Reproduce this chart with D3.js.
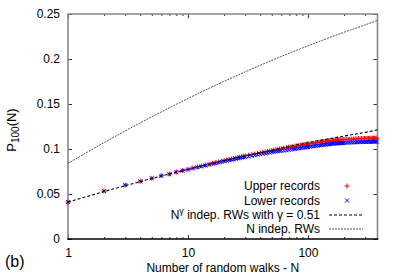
<!DOCTYPE html>
<html><head><meta charset="utf-8">
<script src="https://cdn.jsdelivr.net/npm/d3@7"></script>
<style>body{margin:0;background:#fff}svg{display:block}text{font-family:"Liberation Sans",Arial,sans-serif;fill:#000}</style>
</head><body><svg id="c" width="399" height="279"></svg>
<script>
// ---- data ----
const recN = [1,2,3,4,5,6,7,8,9,10,11,12,13,14,15,16,17,18,19,20,21,22,23,24,25,26,27,28,29,30,
  32,34,36,38,40,42,44,46,48,50,52,54,56,58,60,
  63,66,69,72,75,78,81,84,87,90,93,96,99,
  100,104,108,112,116,120,124,128,132,136,140,144,148,152,156,160,164,168,172,176,180,184,188,192,196,200,
  208,216,224,232,240,248,256,264,272,280,288,296,304,312,320,328,336,344,352,360,368,376];
const upperRecords = [0.0410,0.0533,0.0600,0.0642,0.0675,0.0704,0.0722,0.0745,0.0761,0.0774,
  0.0788,0.0800,0.0811,0.0821,0.0831,0.0840,0.0848,0.0856,0.0863,0.0870,0.0877,0.0883,0.0889,0.0894,0.0900,0.0905,0.0910,0.0914,0.0919,0.0923,
  0.0931,0.0938,0.0945,0.0951,0.0958,0.0963,0.0969,0.0974,0.0979,0.0983,0.0988,0.0992,0.0996,0.1000,0.1003,
  0.1010,0.1015,0.1020,0.1024,0.1028,0.1032,0.1036,0.1039,0.1043,0.1046,0.1049,0.1052,0.1055,
  0.1056,0.1060,0.1063,0.1066,0.1069,0.1072,0.1075,0.1078,0.1080,0.1083,0.1085,0.1087,0.1089,0.1091,0.1093,0.1094,0.1096,0.1097,0.1099,0.1100,0.1101,0.1102,0.1103,0.1104,0.1105,0.1106,
  0.1107,0.1108,0.1109,0.1110,0.1111,0.1112,0.1113,0.1114,0.1115,0.1115,0.1116,0.1117,0.1117,0.1118,0.1118,0.1119,0.1119,0.1119,0.1120,0.1120,0.1120,0.1120];
const lowerRecords = [0.0410,0.0532,0.0599,0.0641,0.0674,0.0702,0.0720,0.0743,0.0759,0.0772,
  0.0785,0.0797,0.0807,0.0817,0.0826,0.0835,0.0843,0.0850,0.0857,0.0863,0.0870,0.0875,0.0881,0.0886,0.0891,0.0896,0.0901,0.0905,0.0909,0.0912,
  0.0918,0.0924,0.0931,0.0936,0.0942,0.0947,0.0952,0.0956,0.0961,0.0965,0.0969,0.0972,0.0975,0.0978,0.0980,
  0.0982,0.0986,0.0990,0.0994,0.0997,0.1001,0.1004,0.1007,0.1010,0.1013,0.1016,0.1018,0.1021,
  0.1022,0.1025,0.1028,0.1031,0.1034,0.1037,0.1040,0.1042,0.1045,0.1047,0.1049,0.1051,0.1053,0.1055,0.1057,0.1058,0.1060,0.1061,0.1062,0.1063,0.1064,0.1065,0.1066,0.1067,0.1068,0.1069,
  0.1070,0.1071,0.1072,0.1073,0.1074,0.1075,0.1076,0.1076,0.1077,0.1078,0.1078,0.1079,0.1079,0.1080,0.1080,0.1080,0.1081,0.1081,0.1081,0.1082,0.1082,0.1082];
const lineN = [1,2,3,5,7,10,15,20,30,50,70,100,150,200,300,380];
const gammaRWs = [0.041,0.0527,0.0592,0.0672,0.0722,0.0774,0.0831,0.0870,0.0923,0.0987,0.1028,0.1069,0.1114,0.1144,0.1185,0.1213];
const indepRWs = [0.084,0.1071,0.1201,0.1358,0.1458,0.1561,0.1674,0.1752,0.1857,0.1985,0.2065,0.2146,0.2236,0.2297,0.2379,0.2430];
const xMajor = [1,10,100];
const xMinor = [2,3,4,5,6,7,8,9,20,30,40,50,60,70,80,90,200,300];
const yTicks = [0,0.05,0.1,0.15,0.2,0.25];
const yTickLabels = ["0","0.05","0.1","0.15","0.2","0.25"];

// ---- drawing ----
const svg = d3.select("#c");
const L=68, R=377.5, T=14, B=239;
const x = d3.scaleLog().domain([1,380]).range([L,R]);
const y = d3.scaleLinear().domain([0,0.25]).range([B,T]);

// ticks (inward, mirrored)
const g = svg.append("g");
const yAxL = d3.axisLeft(y).tickValues(yTicks).tickSize(-4).tickFormat((d,i)=>yTickLabels[i]).tickPadding(8);
const gyl = svg.append("g").attr("transform",`translate(${L},0)`).call(yAxL);
const yAxR = d3.axisRight(y).tickValues(yTicks).tickSize(-4).tickFormat("");
const gyr = svg.append("g").attr("transform",`translate(${R},0)`).call(yAxR);
const xAxB = d3.axisBottom(x).tickValues(xMajor).tickSize(-4).tickFormat(d3.format("d")).tickPadding(9);
const gxb = svg.append("g").attr("transform",`translate(0,${B})`).call(xAxB);
const gxbm = svg.append("g").attr("transform",`translate(0,${B})`).call(d3.axisBottom(x).tickValues(xMinor).tickSize(-2).tickFormat(""));
const gxt = svg.append("g").attr("transform",`translate(0,${T})`).call(d3.axisTop(x).tickValues(xMajor).tickSize(-4).tickFormat(""));
const gxtm = svg.append("g").attr("transform",`translate(0,${T})`).call(d3.axisTop(x).tickValues(xMinor).tickSize(-2).tickFormat(""));
[gyl,gyr,gxb,gxbm,gxt,gxtm].forEach(a=>{
  a.select(".domain").remove();
  a.selectAll("line").attr("stroke","#333").attr("stroke-width",1);
  a.selectAll("text").attr("font-size",12).attr("font-family","Liberation Sans, Arial, sans-serif").attr("fill","#000");
});

// border
svg.append("path").attr("d",`M${L},${B}V${T}H${R}V${B}`).attr("fill","none").attr("stroke","#888").attr("stroke-width",1.6);
svg.append("line").attr("x1",L-0.8).attr("x2",R+0.8).attr("y1",B).attr("y2",B).attr("stroke","#000").attr("stroke-width",1.6);

// lines
const line = d3.line().x(d=>x(d[0])).y(d=>y(d[1])).curve(d3.curveMonotoneX);
svg.append("path").datum(lineN.map((n,i)=>[n,indepRWs[i]])).attr("d",line)
  .attr("fill","none").attr("stroke","#555").attr("stroke-width",1).attr("stroke-dasharray","2,1");

// markers
const s=2.5;
const up = svg.append("g").attr("stroke","#ff0000").attr("stroke-width",1);
recN.forEach((n,i)=>{
  const cx=x(n), cy=y(upperRecords[i]);
  up.append("path").attr("d",`M${cx-s},${cy}H${cx+s}M${cx},${cy-s}V${cy+s}`);
});
const lo = svg.append("g").attr("stroke","#0000ff").attr("stroke-width",1);
recN.forEach((n,i)=>{
  const cx=x(n), cy=y(lowerRecords[i]);
  lo.append("path").attr("d",`M${cx-s+0.5},${cy-s+0.5}L${cx+s-0.5},${cy+s-0.5}M${cx-s+0.5},${cy+s-0.5}L${cx+s-0.5},${cy-s+0.5}`);
});
svg.append("path").datum(lineN.map((n,i)=>[n,gammaRWs[i]])).attr("d",line)
  .attr("fill","none").attr("stroke","#000").attr("stroke-width",1.1).attr("stroke-dasharray","3,2");

// legend
const lx=320, ls=329, le=363, lm=347;
const rows=[186,200.5,215,229];
const leg = svg.append("g").attr("font-size",12);
leg.append("text").attr("x",lx).attr("y",rows[0]+4).attr("text-anchor","end").text("Upper records");
leg.append("text").attr("x",lx).attr("y",rows[1]+4).attr("text-anchor","end").text("Lower records");
const t3 = leg.append("text").attr("x",lx).attr("y",rows[2]+4).attr("text-anchor","end");
t3.append("tspan").text("N");
t3.append("tspan").attr("font-size",9).attr("dy",-5).text("γ");
t3.append("tspan").attr("dy",5).text(" indep. RWs with γ = 0.51");
leg.append("text").attr("x",lx).attr("y",rows[3]+4).attr("text-anchor","end").text("N indep. RWs");
leg.append("path").attr("d",`M${lm-s},${rows[0]}H${lm+s}M${lm},${rows[0]-s}V${rows[0]+s}`).attr("stroke","#ff0000");
leg.append("path").attr("d",`M${lm-2},${rows[1]-2}L${lm+2},${rows[1]+2}M${lm-2},${rows[1]+2}L${lm+2},${rows[1]-2}`).attr("stroke","#0000ff");
leg.append("line").attr("x1",ls).attr("x2",le).attr("y1",rows[2]).attr("y2",rows[2]).attr("stroke","#000").attr("stroke-width",1.1).attr("stroke-dasharray","3,2");
leg.append("line").attr("x1",ls).attr("x2",le).attr("y1",rows[3]).attr("y2",rows[3]).attr("stroke","#555").attr("stroke-width",1).attr("stroke-dasharray","2,1");

// axis titles
svg.append("text").attr("x",(L+R)/2).attr("y",272).attr("text-anchor","middle").attr("font-size",12).text("Number of random walks - N");
const yt = svg.append("text").attr("transform","translate(16,130) rotate(-90)").attr("text-anchor","middle").attr("font-size",13);
yt.append("tspan").text("P");
yt.append("tspan").attr("font-size",10).attr("dy",3).text("100");
yt.append("tspan").attr("dy",-3).text("(N)");
svg.append("text").attr("x",5).attr("y",267).attr("font-size",16).text("(b)");
</script></body></html>
